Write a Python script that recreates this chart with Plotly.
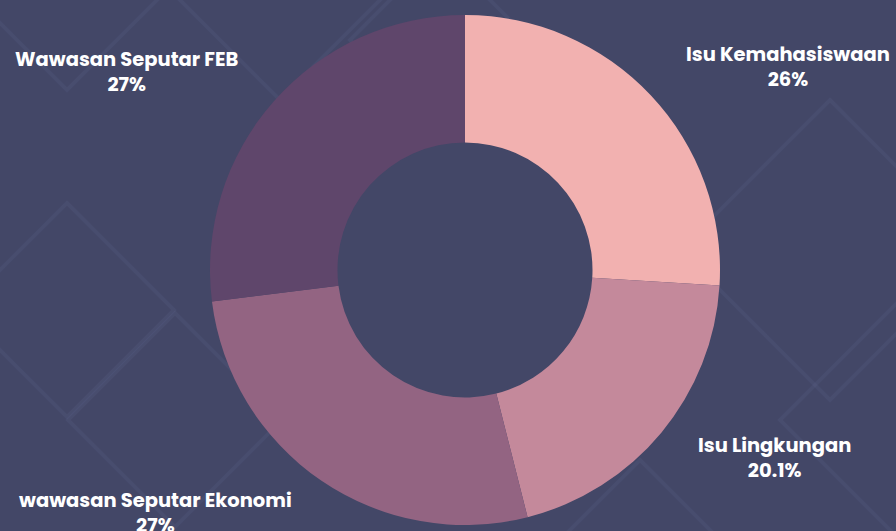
import plotly.graph_objects as go

labels = ["Isu Kemahasiswaan", "Isu Lingkungan", "wawasan Seputar Ekonomi", "Wawasan Seputar FEB"]
values = [26, 20.1, 27, 27]
pct_text = ["26%", "20.1%", "27%", "27%"]
colors = ["#F2B1B0", "#C4899B", "#936482", "#5F466B"]

BG = "#434767"
W, H = 896, 531

fig = go.Figure(go.Pie(
    labels=labels, values=values, hole=0.5, sort=False, direction="clockwise",
    rotation=0, marker=dict(colors=colors, line=dict(width=0)),
    textinfo="none", hoverinfo="label+percent", showlegend=False,
    domain=dict(x=[(465 - 255) / W, (465 + 255) / W], y=[(531 - 525) / H, (531 - 15) / H]),
))

# faint decorative diamonds in the background
diamonds = [(67, 310, 107), (67, -17, 107), (280, 0, 100), (175, 420, 107),
            (830, 250, 150), (900, 420, 120), (640, 600, 140), (440, 40, 90)]
shapes = []
for cx, cy, r in diamonds:
    path = f"M {cx},{cy - r} L {cx + r},{cy} L {cx},{cy + r} L {cx - r},{cy} Z"
    shapes.append(dict(type="path", xref="x", yref="y", path=path,
                       line=dict(color="rgba(120,130,170,0.11)", width=4), layer="below"))

label_pos = [(788, 39), (774, 430), (155, 485), (127, 44)]
annotations = []
for (x, y), lab, pt in zip(label_pos, labels, pct_text):
    annotations.append(dict(x=x / W, y=1 - y / H, xref="paper", yref="paper",
                            text=f"<b>{lab}</b><br><b>{pt}</b>", showarrow=False, align="center",
                            xanchor="center", yanchor="top",
                            font=dict(family="Poppins, Inter, sans-serif", size=19.5, color="white", weight=900)))

fig.update_layout(
    width=W, height=H, margin=dict(l=0, r=0, t=0, b=0),
    paper_bgcolor=BG, plot_bgcolor=BG,
    xaxis=dict(range=[0, W], visible=False, fixedrange=True),
    yaxis=dict(range=[H, 0], visible=False, fixedrange=True),
    shapes=shapes, annotations=annotations,
)
fig.write_html("out.html", config={"displayModeBar": False},
               post_script="document.body.style.margin='0';document.body.style.overflow='hidden';")
